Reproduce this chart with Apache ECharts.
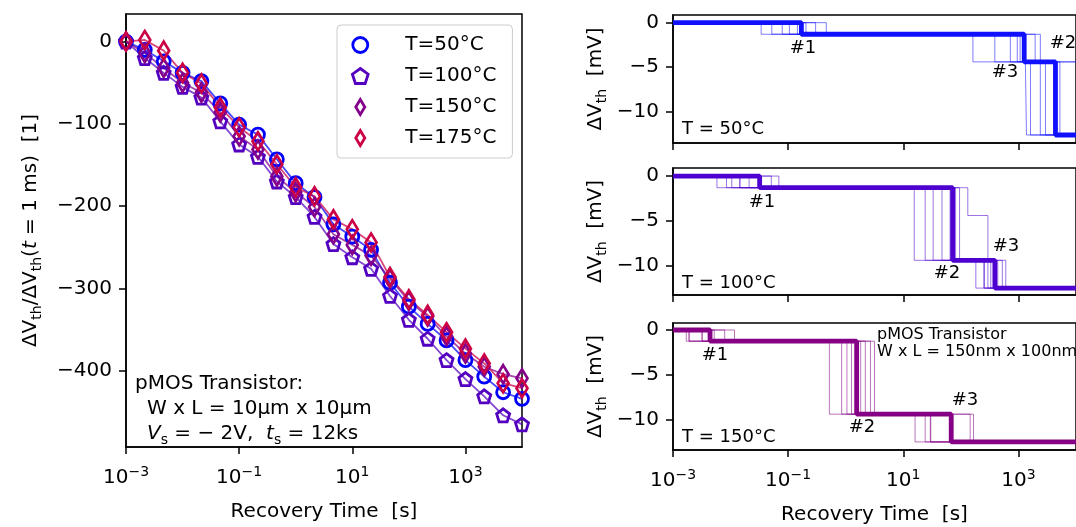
<!DOCTYPE html>
<html><head><meta charset="utf-8">
<script src="https://cdn.jsdelivr.net/npm/echarts@6/dist/echarts.min.js"></script>
<style>html,body{margin:0;padding:0;background:#fff}#c{width:1076px;height:527px}</style>
</head><body><div id="c"></div>
<script>
// ---------- data: left panel (normalized recovery) ----------
const recoveryTimes = [0.001, 0.00215, 0.00464, 0.01, 0.0215, 0.0464, 0.1, 0.215, 0.464, 1, 2.15, 4.64, 10, 21.5, 46.4, 100, 215, 464, 1000, 2150, 4640, 10000];
const normT50  = [0, -10, -24, -38, -48, -75, -101, -113, -143, -172, -189, -222, -237, -253, -293, -322, -343, -363, -387, -407, -426, -434];
const normT100 = [0, -20, -38, -55, -68, -97, -125, -140, -170, -189, -213, -246, -262, -276, -309, -338, -361, -387, -410, -431, -454, -465];
const normT150 = [0, -14, -32, -50, -62, -86, -115, -131, -164, -183, -201, -234, -247, -260, -288, -315, -334, -358, -379, -395, -404, -409];
const normT175 = [0, 2, -11, -38, -51, -80, -104, -121, -149, -177, -188, -216, -228, -244, -286, -313, -332, -353, -373, -391, -415, -421];
const legendNames = ['T=50°C', 'T=100°C', 'T=150°C', 'T=175°C'];

// ---------- data: right panels (single defect steps, mV) ----------
// step amplitudes of defects #1, #2, #3
const amp50  = [-1.3, -8.2, -3.1];
const amp100 = [-1.3, -8.1, -3.1];
const amp150 = [-1.25, -8.15, -3.1];
// bold trace emission times [#1, #2, #3] (s)
const bold50  = [0.17, 4400, 1260];
const bold100 = [0.032, 72, 390];
const bold150 = [0.0044, 1.55, 68];
// thin traces: emission times of #1, #2, #3 (s)
const thin50_1 = [0.034, 0.052, 0.079, 0.105, 0.145, 0.204, 0.30, 0.46];
const thin50_2 = [1620, 2400, 2950, 4170, 5250, 1380, 20000, 30000];
const thin50_3 = [162, 389, 724, 955, 1070, 1320, 1950, 2400];
const thin100_1 = [0.0058, 0.0085, 0.0105, 0.0145, 0.021, 0.051, 0.069, 0.0145];
const thin100_2 = [15.5, 24, 33, 47, 65, 81, 95, 295];
const thin100_3 = [182, 257, 331, 437, 525, 603, 250, 132];
const thin150_1 = [0.0017, 0.0019, 0.0032, 0.0052, 0.0079, 0.0117, 0.0032, 0.0019];
const thin150_2 = [0.52, 0.85, 1.05, 1.26, 1.82, 2.19, 2.69, 3.16];
const thin150_3 = [16, 24, 29.5, 30, 65, 72, 145, 166];

const xTickVals = [0.001, 0.1, 10, 1000];
const yTickLeft = [0, -100, -200, -300, -400];
const yTickRight = [0, -5, -10];

// ---------- styling ----------
const FF = 'DejaVu Sans';
const c50 = '#0000ff', c100 = '#5300c0', c150 = '#84008a', c175 = '#cc0044';
const p1c = '#1010ff', p2c = '#4e00d0', p3c = '#850085';
const pentagon = 'path://M0,-1 L0.951,-0.309 L0.588,0.809 L-0.588,0.809 L-0.951,-0.309 Z';
const diamond = 'path://M0,-1 L0.6,0 L0,1 L-0.6,0 Z';

const minus = s => String(s).replace('-', '\u2212');
const powRich = {
  b: {fontSize: 20, fontFamily: FF, color: '#000', lineHeight: 26},
  s: {fontSize: 14, fontFamily: FF, color: '#000', lineHeight: 14, verticalAlign: 'top'}
};
const fmtPow = v => '{b|10}{s|' + minus(Math.round(Math.log10(v))) + '}';
const nameRich = {
  n: {fontSize: 20, fontFamily: FF, color: '#000', lineHeight: 26},
  it: {fontSize: 20, fontFamily: FF, color: '#000', lineHeight: 26, fontStyle: 'italic'},
  sub: {fontSize: 14, fontFamily: FF, color: '#000', lineHeight: 14, verticalAlign: 'bottom'}
};

function xAxisDef(gi, showLabels) {
  return {
    gridIndex: gi, type: 'log', logBase: 10, min: 0.001, max: 10000,
    axisLine: {show: true, onZero: false, lineStyle: {color: '#000', width: 1.5}},
    axisTick: {show: true, length: 7, lineStyle: {color: '#000', width: 1.5}, customValues: xTickVals},
    axisLabel: {show: showLabels, customValues: xTickVals, formatter: fmtPow, rich: powRich, margin: 18, color: '#000'},
    splitLine: {show: false}, minorTick: {show: false},
    name: showLabels ? 'Recovery Time  [s]' : '', nameLocation: 'middle', nameGap: 55,
    nameTextStyle: {fontSize: 20, fontFamily: FF, color: '#000'}
  };
}
function yAxisDef(gi, mn, mx, ticks, name, gap) {
  return {
    gridIndex: gi, type: 'value', min: mn, max: mx,
    axisLine: {show: true, onZero: false, lineStyle: {color: '#000', width: 1.5}},
    axisTick: {show: true, length: 7, lineStyle: {color: '#000', width: 1.5}, customValues: ticks},
    axisLabel: {customValues: ticks, formatter: v => minus(v), fontSize: 20, fontFamily: FF, color: '#000', margin: 14},
    splitLine: {show: false},
    name: name, nameLocation: 'middle', nameRotate: 90, nameGap: gap,
    nameTextStyle: {rich: nameRich, color: '#000'}
  };
}

function stepTrace(times, amps) {
  const ev = times.map((t, i) => [t, amps[i]]).sort((a, b) => a[0] - b[0]);
  const pts = [[0.001, 0]];
  let lvl = 0;
  ev.forEach(([t, a]) => { if (t < 10000) { lvl += a; pts.push([t, lvl]); } });
  pts.push([10000, lvl]);
  return pts;
}

const series = [];
// left panel lines
[[normT50, c50], [normT100, c100], [normT150, c150], [normT175, c175]].forEach(([d, c], i) => {
  series.push({
    type: 'line', name: 'line' + i, xAxisIndex: 0, yAxisIndex: 0, showSymbol: false, symbol: 'none',
    data: recoveryTimes.map((t, j) => [t, d[j]]),
    lineStyle: {color: c, width: 1.8, opacity: 0.72}, itemStyle: {color: c}, z: 2, silent: true
  });
});
// left panel markers
const markerDefs = [[normT50, c50, 'circle', 13], [normT100, c100, pentagon, 13], [normT150, c150, diamond, [11, 18]], [normT175, c175, diamond, [11, 18]]];
markerDefs.forEach(([d, c, sym, sz], i) => {
  series.push({
    type: 'scatter', name: legendNames[i], xAxisIndex: 0, yAxisIndex: 0,
    symbol: sym, symbolSize: sz, clip: true,
    data: recoveryTimes.map((t, j) => [t, d[j]]),
    itemStyle: {color: 'rgba(255,255,255,0)', borderColor: c, borderWidth: 2.8, opacity: 1}, z: 3
  });
});
// right panels
const panels = [
  [1, p1c, amp50, bold50, [thin50_1, thin50_2, thin50_3]],
  [2, p2c, amp100, bold100, [thin100_1, thin100_2, thin100_3]],
  [3, p3c, amp150, bold150, [thin150_1, thin150_2, thin150_3]]
];
panels.forEach(([gi, c, amps, bold, thin]) => {
  thin[0].forEach((t1, k) => {
    series.push({
      type: 'line', name: 'thin' + gi + '_' + k, xAxisIndex: gi, yAxisIndex: gi, step: 'end', symbol: 'none',
      data: stepTrace([t1, thin[1][k], thin[2][k]], amps),
      lineStyle: {color: c, width: 1, opacity: 0.55}, z: 2, silent: true
    });
  });
  series.push({
    type: 'line', name: 'bold' + gi, xAxisIndex: gi, yAxisIndex: gi, step: 'end', symbol: 'none',
    data: stepTrace(bold, amps),
    lineStyle: {color: c, width: 4.8, opacity: 1}, z: 3, silent: true
  });
});

const txt = (x, y, s, size, align, extra) => ({
  type: 'text', x: x, y: y, z: 50,
  style: Object.assign({text: s, fontSize: size, fontFamily: FF, fill: '#000', align: align || 'center', verticalAlign: 'middle'}, extra || {})
});

const chart = echarts.init(document.getElementById('c'), null, {renderer: 'canvas'});
chart.setOption({
  animation: false,
  backgroundColor: '#fff',
  grid: [
    {left: 126, top: 14, width: 396, height: 435, show: true, borderColor: '#000', borderWidth: 1.5, backgroundColor: 'transparent'},
    {left: 673, top: 15, right: -4, height: 128, show: true, borderColor: '#000', borderWidth: 1.5},
    {left: 673, top: 168, right: -4, height: 127, show: true, borderColor: '#000', borderWidth: 1.5},
    {left: 673, top: 323, right: -4, height: 127, show: true, borderColor: '#000', borderWidth: 1.5}
  ],
  xAxis: [xAxisDef(0, true), xAxisDef(1, false), xAxisDef(2, false), xAxisDef(3, true)],
  yAxis: [
    yAxisDef(0, -492.5, 33.5, yTickLeft, '{n|ΔV}{sub|th}{n|/ΔV}{sub|th}{n|(}{it|t}{n| = 1 ms)  [1]}', 82),
    yAxisDef(1, -13.5, 0.86, yTickRight, '{n|ΔV}{sub|th}{n|  [mV]}', 64),
    yAxisDef(2, -13.27, 0.9, yTickRight, '{n|ΔV}{sub|th}{n|  [mV]}', 64),
    yAxisDef(3, -13.4, 0.78, yTickRight, '{n|ΔV}{sub|th}{n|  [mV]}', 64)
  ],
  legend: {
    data: legendNames.map((n, i) => ({name: n, itemStyle: {borderWidth: 2.8, borderColor: markerDefs[i][1], color: 'rgba(255,255,255,0)'}})),
    orient: 'vertical', left: 337, top: 25,
    padding: [10, 16, 10, 14], itemGap: 11, itemWidth: 32, itemHeight: 15,
    borderColor: '#cccccc', borderWidth: 1, borderRadius: 4, backgroundColor: 'rgba(255,255,255,0.8)',
    textStyle: {fontSize: 20, fontFamily: FF, color: '#000', padding: [0, 0, 0, 24]},
    selectedMode: false
  },
  graphic: [
    txt(135, 384, 'pMOS Transistor:', 20, 'left'),
    txt(147, 409, 'W x L = 10µm x 10µm', 20, 'left'),
    txt(147, 434, '{it|V}{sub|s}{n| = \u2212 2V,  }{it|t}{sub|s}{n| = 12ks}', 20, 'left', {rich: nameRich}),
    txt(803, 48, '#1', 18), txt(1005, 72, '#3', 18), txt(1063, 43, '#2', 18),
    txt(682, 129, 'T = 50°C', 18, 'left'),
    txt(762, 202, '#1', 18), txt(1006, 246, '#3', 18), txt(947, 273, '#2', 18),
    txt(682, 283, 'T = 100°C', 18, 'left'),
    txt(715, 355, '#1', 18), txt(862, 427, '#2', 18), txt(965, 400, '#3', 18),
    txt(682, 437, 'T = 150°C', 18, 'left'),
    txt(877, 335, 'pMOS Transistor', 16, 'left'),
    txt(877, 352, 'W x L = 150nm x 100nm', 16, 'left')
  ],
  series: series
});
</script></body></html>
